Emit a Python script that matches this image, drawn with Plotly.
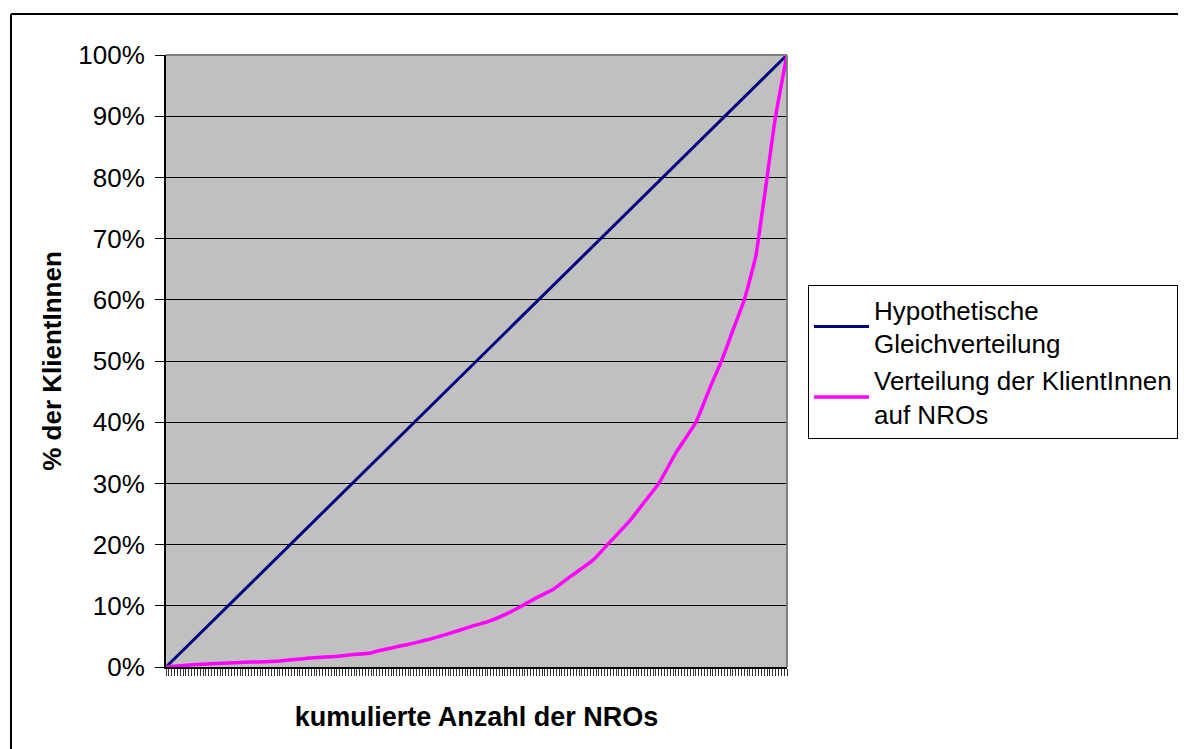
import plotly.graph_objects as go

# ---- data ----
n_ngos = 218
equal_x = [0, 218]
equal_pct = [0, 100]

ngo_cum = [0, 5, 14, 22, 30, 40, 49, 59, 65, 72, 75, 81, 87, 93, 99, 107, 113,
           121, 125, 130, 136, 142, 150, 155, 163, 168, 173, 179, 186, 191,
           195, 199, 203, 207, 208, 211, 214, 218]
client_pct = [0, 0.2, 0.5, 0.65, 0.8, 1.0, 1.4, 1.7, 2.0, 2.3, 2.7, 3.3, 3.9,
              4.6, 5.4, 6.6, 7.4, 9.0, 10.0, 11.3, 12.7, 14.8, 17.5, 20, 24,
              27, 30, 35, 40, 45.7, 50, 55, 60, 67, 70, 80, 90, 100]

y_ticks = list(range(0, 101, 10))

series_names = ["Hypothetische<br>Gleichverteilung",
                "Verteilung der KlientInnen<br>auf NROs"]
x_title = "kumulierte Anzahl der NROs"
y_title = "% der KlientInnen"

FONT = "Liberation Sans, Arial, sans-serif"
FS = 26

fig = go.Figure()
fig.add_trace(go.Scatter(x=equal_x, y=equal_pct, mode="lines",
                         name=series_names[0],
                         line=dict(color="#000080", width=3)))
fig.add_trace(go.Scatter(x=ngo_cum, y=client_pct, mode="lines",
                         name=series_names[1],
                         line=dict(color="#FF00FF", width=3.5, shape="spline",
                                   smoothing=0.5)))

fig.update_layout(
    width=1186, height=749,
    margin=dict(l=158, r=407, t=47, b=90),
    paper_bgcolor="white",
    plot_bgcolor="#C0C0C0",
    font=dict(family=FONT, size=FS, color="black"),
    showlegend=True,
    legend=dict(x=1.0338, y=0.624, xanchor="left", yanchor="top",
                bordercolor="black", borderwidth=1, bgcolor="white",
                font=dict(family=FONT, size=FS, color="black"),
                itemwidth=55, tracegroupgap=6),
    xaxis=dict(range=[0, n_ngos], tick0=0, dtick=1, ticks="outside",
               ticklen=7, tickwidth=1, tickcolor="#333333",
               showticklabels=False, showgrid=False, zeroline=False,
               showline=True, linecolor="black", linewidth=2,
               title=dict(text="<b>" + x_title + "</b>",
                          font=dict(family=FONT, size=27), standoff=32)),
    yaxis=dict(range=[0, 100], tickvals=y_ticks,
               ticktext=[f"{v}%" for v in y_ticks],
               ticks="outside", ticklen=9, tickwidth=1, tickcolor="black",
               ticklabelstandoff=5,
               showgrid=True, gridcolor="black", gridwidth=1,
               zeroline=False, showline=True, linecolor="black", linewidth=2,
               tickfont=dict(family=FONT, size=FS),
               title=dict(text="<b>" + y_title + "</b>",
                          font=dict(family=FONT, size=FS), standoff=9)),
    shapes=[
        # plot area top/right border (grey)
        dict(type="line", xref="paper", yref="paper", x0=0, x1=1, y0=1, y1=1,
             line=dict(color="#808080", width=2), layer="above"),
        dict(type="line", xref="paper", yref="paper", x0=1, x1=1, y0=0, y1=1,
             line=dict(color="#808080", width=2), layer="above"),
        # outer chart border (left and top)
        dict(type="line", xref="paper", yref="paper", x0=-0.2496, x1=-0.2496,
             y0=-0.3, y1=1.067, line=dict(color="black", width=2)),
        dict(type="line", xref="paper", yref="paper", x0=-0.2496, x1=1.8,
             y0=1.067, y1=1.067, line=dict(color="black", width=2)),
    ],
)

fig.write_html("out.html")
